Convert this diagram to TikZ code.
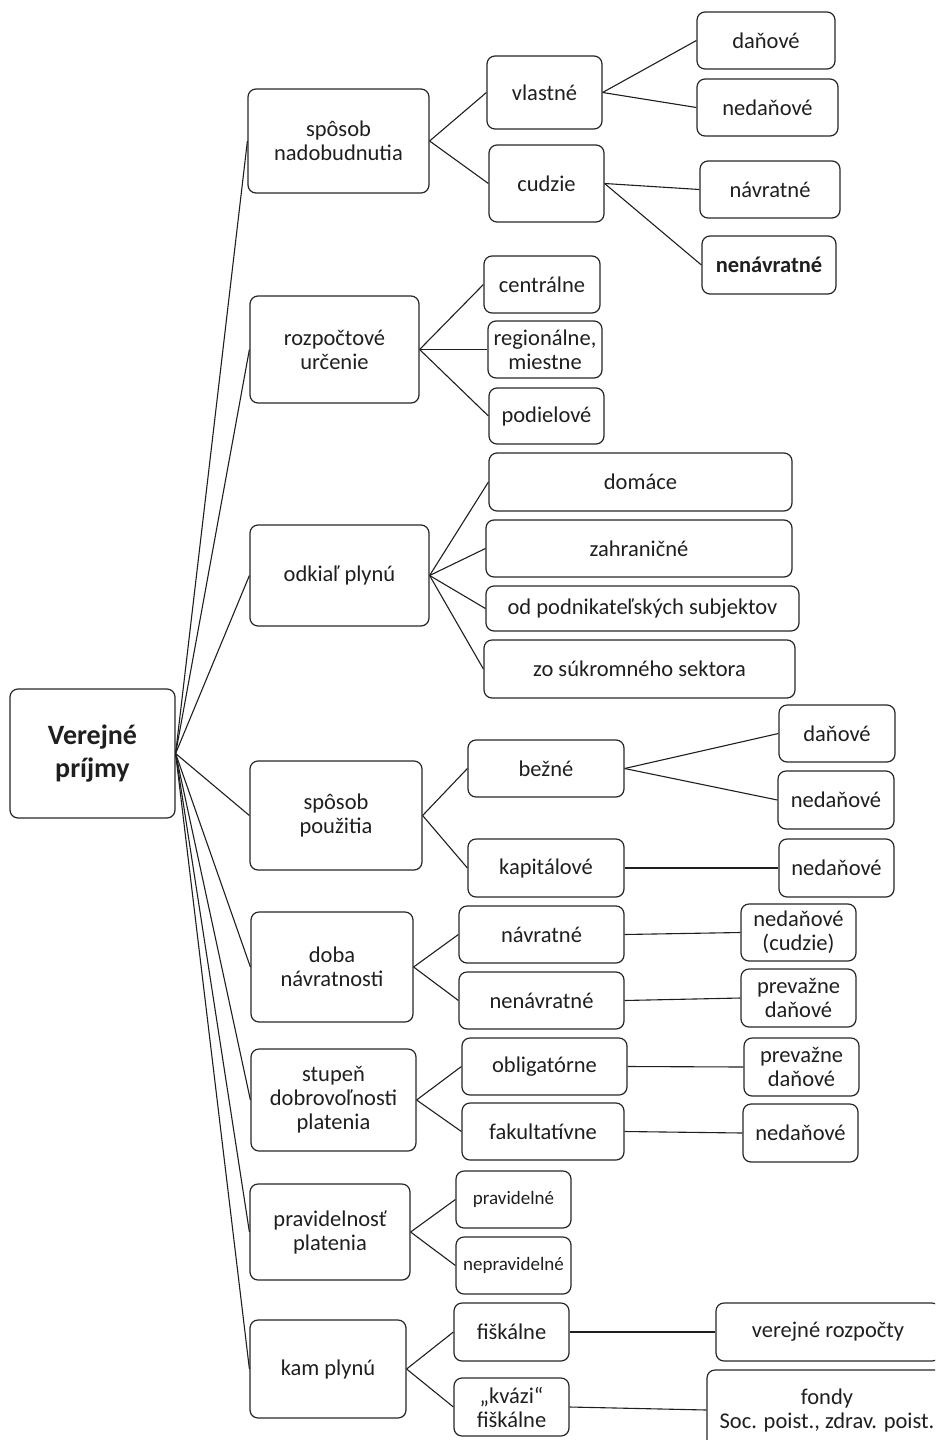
\documentclass[tikz,border=0pt]{standalone}
\usepackage{fontspec}
\setmainfont{Carlito}
\begin{document}
\begin{tikzpicture}[x=1pt,y=-1pt,
  box/.style={draw=black!85, line width=1.2pt, rounded corners=8pt, align=center,
    inner sep=0pt, text=black!88, font=\fontsize{22.5}{24}\selectfont},
  rootbox/.style={box, font=\fontsize{28}{33}\selectfont\bfseries},
  smallbox/.style={box, font=\fontsize{19}{21}\selectfont},
  link/.style={draw=black!88, line width=1.1pt}]
\useasboundingbox (0,0) rectangle (935,1440);
\clip (0,0) rectangle (935,1440);

% root
\node[rootbox, minimum width=165, minimum height=129] (root) at (92.5,753.5) {Verejné\\príjmy};

% level 1
\node[box, minimum width=181, minimum height=104] (a1) at (338.5,141) {spôsob\\nadobudnutia};
\node[box, minimum width=169, minimum height=107] (a2) at (334.5,349.5) {rozpočtové\\určenie};
\node[box, minimum width=179, minimum height=101] (a3) at (339.5,575.5) {odkiaľ plynú};
\node[box, minimum width=172, minimum height=109] (a4) at (336,815.5) {spôsob\\použitia};
\node[box, minimum width=162, minimum height=110] (a5) at (332,967) {doba\\návratnosti};
\node[box, minimum width=165, minimum height=102] (a6) at (333.5,1100) {stupeň\\dobrovoľnosti\\platenia};
\node[box, minimum width=160, minimum height=96] (a7) at (330,1232) {pravidelnosť\\platenia};
\node[box, minimum width=156, minimum height=98] (a8) at (328,1369) {kam plynú};

% spôsob nadobudnutia
\node[box, minimum width=115, minimum height=73] (b11) at (544.5,92.5) {vlastné};
\node[box, minimum width=115, minimum height=77] (b12) at (546.5,183.5) {cudzie};
\node[box, minimum width=138, minimum height=57] (c111) at (766,40.5) {daňové};
\node[box, minimum width=141, minimum height=57] (c112) at (767.5,107.5) {nedaňové};
\node[box, minimum width=140, minimum height=57] (c121) at (770,189.5) {návratné};
\node[box, minimum width=134, minimum height=58] (c122) at (769,265) {\bfseries nenávratné};

% rozpočtové určenie
\node[box, minimum width=116, minimum height=57] (b21) at (542,284.5) {centrálne};
\node[box, minimum width=114, minimum height=57] (b22) at (545,349.5) {regionálne,\\miestne};
\node[box, minimum width=115, minimum height=56] (b23) at (546.5,416) {podielové};

% odkiaľ plynú
\node[box, minimum width=303, minimum height=58] (b31) at (640.5,482) {domáce};
\node[box, minimum width=306, minimum height=57] (b32) at (639,548.5) {zahraničné};
\node[box, minimum width=313, minimum height=45] (b33) at (642.5,608.5) {od podnikateľských subjektov};
\node[box, minimum width=311, minimum height=58] (b34) at (639.5,669) {zo súkromného sektora};

% spôsob použitia
\node[box, minimum width=156, minimum height=57] (b41) at (546,768.5) {bežné};
\node[box, minimum width=156, minimum height=58] (b42) at (546,868) {kapitálové};
\node[box, minimum width=116, minimum height=57] (c411) at (837,733.5) {daňové};
\node[box, minimum width=116, minimum height=58] (c412) at (836,800) {nedaňové};
\node[box, minimum width=115, minimum height=58] (c421) at (836.5,868) {nedaňové};

% doba návratnosti
\node[box, minimum width=165, minimum height=57] (b51) at (541.5,934.5) {návratné};
\node[box, minimum width=165, minimum height=57] (b52) at (541.5,1000.5) {nenávratné};
\node[box, minimum width=115, minimum height=57] (c511) at (798.5,932.5) {nedaňové\\(cudzie)};
\node[box, minimum width=115, minimum height=58] (c521) at (798.5,998) {prevažne\\daňové};

% stupeň dobrovoľnosti
\node[box, minimum width=165, minimum height=57] (b61) at (544.5,1066.5) {obligatórne};
\node[box, minimum width=162, minimum height=57] (b62) at (543,1131.5) {fakultatívne};
\node[box, minimum width=115, minimum height=58] (c611) at (801.5,1067) {prevažne\\daňové};
\node[box, minimum width=115, minimum height=58] (c621) at (800.5,1133) {nedaňové};

% pravidelnosť
\node[smallbox, minimum width=115, minimum height=57] (b71) at (513.5,1199.5) {pravidelné};
\node[smallbox, minimum width=115, minimum height=57] (b72) at (513.5,1265.5) {nepravidelné};

% kam plynú
\node[box, minimum width=115, minimum height=58] (b81) at (511.5,1332) {fiškálne};
\node[box, minimum width=115, minimum height=58] (b82) at (511.5,1407) {„kvázi“\\fiškálne};
\node[box, minimum width=224, minimum height=58] (c811) at (828,1332) {verejné rozpočty};
\node[box, minimum width=240, minimum height=80] (c821) at (827,1410) {fondy\\Soc. poist., zdrav. poist.};

% connectors
\foreach \n in {a1,a2,a3,a4,a5,a6,a7,a8} \path[link] (root.east) -- (\n.west);
\foreach \p/\c in {a1/b11,a1/b12,b11/c111,b11/c112,b12/c121,b12/c122,
  a2/b21,a2/b22,a2/b23,a3/b31,a3/b32,a3/b33,a3/b34,
  a4/b41,a4/b42,b41/c411,b41/c412,b42/c421,
  a5/b51,a5/b52,b51/c511,b52/c521,
  a6/b61,a6/b62,b61/c611,b62/c621,
  a7/b71,a7/b72,a8/b81,a8/b82,b81/c811,b82/c821}
  \path[link] (\p.east) -- (\c.west);
\end{tikzpicture}
\end{document}
